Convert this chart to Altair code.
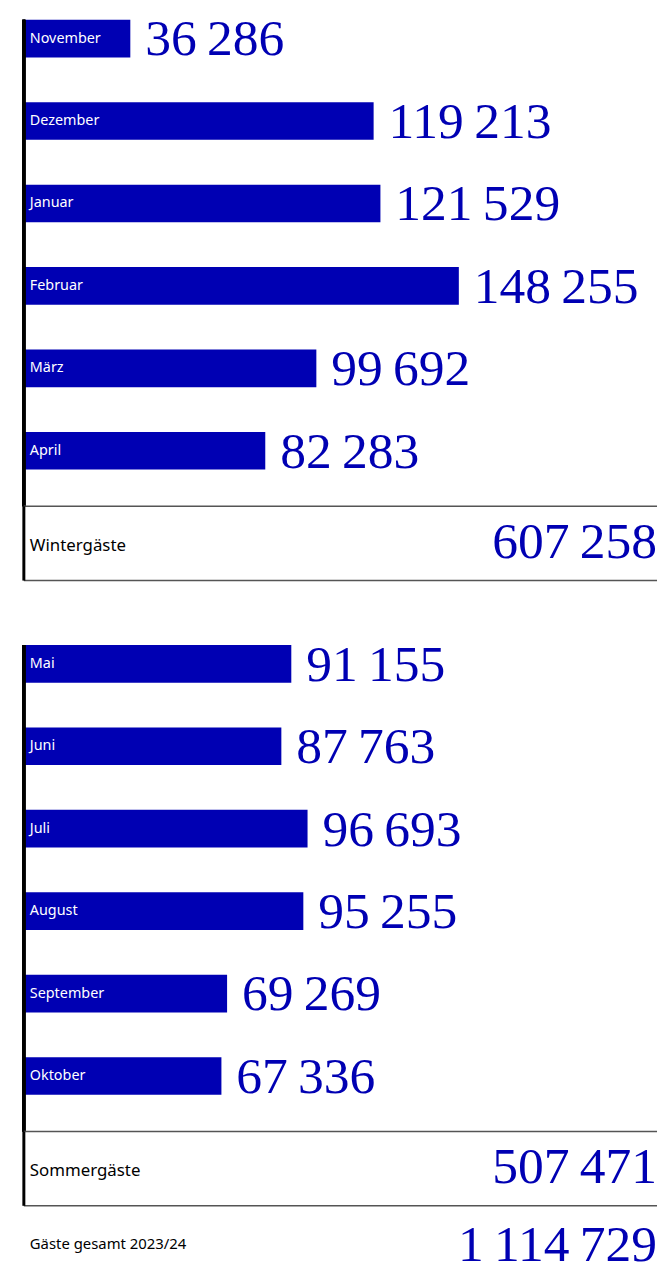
import altair as alt
import pandas as pd

winter_months = ["November", "Dezember", "Januar", "Februar", "März", "April"]
winter_values = [36286, 119213, 121529, 148255, 99692, 82283]
summer_months = ["Mai", "Juni", "Juli", "August", "September", "Oktober"]
summer_values = [91155, 87763, 96693, 95255, 69269, 67336]
total_labels = ["Wintergäste", "Sommergäste", "Gäste gesamt 2023/24"]
total_values = [607258, 507471, 1114729]

BLUE = "#0000b3"
W = 639
STEP = 83.2
BAND = 38
MONTH_H = 491
TOTAL_H = 75
GAP_H = 65
GRAND_H = 57
XMAX = 215800
TOP_OFF = 30
NUM_FONT = "Liberation Serif"
NUM_SIZE = 52
SANS = "Noto Sans"


def fmt(v):
    return f"{v:,}".replace(",", "\u2009")


def months_panel(months, values, off=0):
    df = pd.DataFrame({"month": months, "value": values,
                       "label": [fmt(v) for v in values]})
    span = STEP * (len(months) - 1) + BAND
    sc = alt.Scale(domain=months, range=[off, off + span],
                   paddingInner=1 - BAND / STEP, paddingOuter=0)
    x = alt.X("value:Q", axis=None, scale=alt.Scale(domain=[0, XMAX]))
    base = alt.Chart(df)
    bars = base.mark_bar(color=BLUE).encode(
        x=x, y=alt.Y("month:N", axis=None, scale=sc))
    names = base.mark_text(align="left", baseline="middle", dx=6, color="white",
                           font=SANS, fontSize=14.5).encode(
        x=alt.value(0), y=alt.Y("month:N", axis=None, scale=sc, bandPosition=0.5),
        text="month:N")
    nums = base.mark_text(align="left", baseline="alphabetic", dx=15, dy=-2,
                          color=BLUE, font=NUM_FONT, fontSize=NUM_SIZE).encode(
        x=x, y=alt.Y("month:N", axis=None, scale=sc, bandPosition=1),
        text="label:N")
    vline = base.mark_rule(color="black", strokeWidth=3).encode(
        x=alt.value(0), y=alt.value(off), y2=alt.value(off + MONTH_H))
    return alt.layer(bars, names, nums, vline).properties(width=W, height=off + MONTH_H)


def total_panel(label, value, h, lines=True, size=17, base_y=52):
    df = pd.DataFrame({"label": [label], "txt": [fmt(value)]})
    base = alt.Chart(df)
    lab = base.mark_text(align="left", baseline="middle", dx=6,
                         dy=(40 - h / 2) if lines else (39 - h / 2),
                         font=SANS, fontSize=size, color="black").encode(
        x=alt.value(0), text="label:N")
    num = base.mark_text(align="right", baseline="alphabetic",
                         dy=base_y - h / 2,
                         font=NUM_FONT, fontSize=NUM_SIZE, color=BLUE).encode(
        x=alt.value(W), text="txt:N")
    layers = [lab, num]
    if lines:
        top = base.mark_rule(color="#555555", strokeWidth=1.5).encode(
            x=alt.value(0), x2=alt.value(W), y=alt.value(0))
        bot = base.mark_rule(color="#555555", strokeWidth=1.5).encode(
            x=alt.value(0), x2=alt.value(W), y=alt.value(h))
        vline = base.mark_rule(color="black", strokeWidth=3).encode(
            x=alt.value(0), y=alt.value(0), y2=alt.value(h))
        layers = [top, bot, vline] + layers
    return alt.layer(*layers).properties(width=W, height=h)


def spacer(h):
    return alt.Chart(pd.DataFrame({"a": [0]})).mark_point(opacity=0).encode(
        x=alt.value(0), y=alt.value(0)).properties(width=W, height=h)


chart = alt.vconcat(
    months_panel(winter_months, winter_values, off=TOP_OFF),
    total_panel(total_labels[0], total_values[0], TOTAL_H),
    spacer(GAP_H),
    months_panel(summer_months, summer_values),
    total_panel(total_labels[1], total_values[1], TOTAL_H),
    total_panel(total_labels[2], total_values[2], GRAND_H, lines=False,
                size=15, base_y=56),
    spacing=0, bounds="flush",
).properties(
    padding={"left": 13, "top": 6 - TOP_OFF, "right": 0, "bottom": 0}
).configure_view(strokeWidth=0)

chart.save("out.html", embed_options={"renderer": "svg", "actions": False})
